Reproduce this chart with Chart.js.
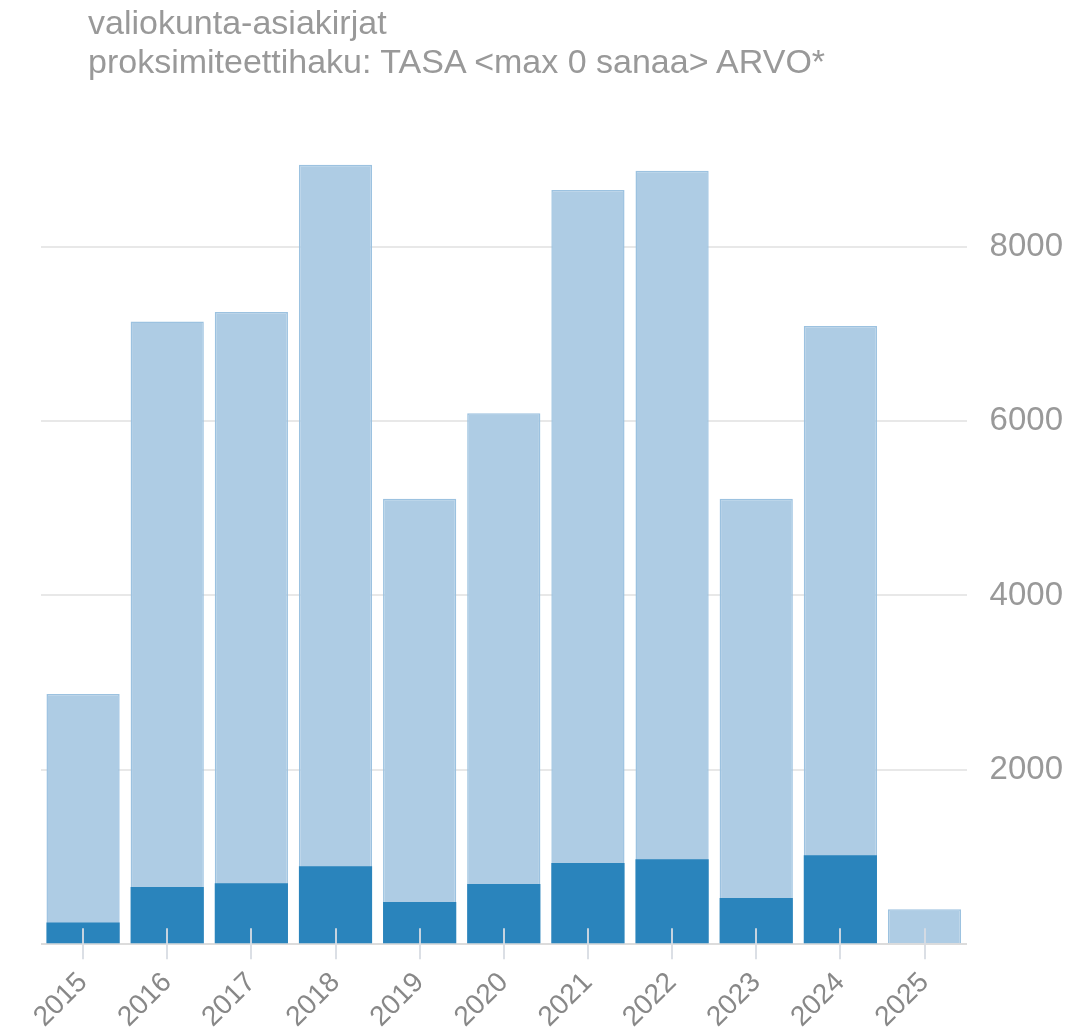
<!DOCTYPE html>
<html>
<head>
<meta charset="utf-8">
<script src="https://cdn.jsdelivr.net/npm/chart.js@4.4.1/dist/chart.umd.min.js"></script>
<style>
  html, body { margin: 0; padding: 0; background: #fff; overflow: hidden; }
  #wrap { position: relative; width: 1076px; height: 1028px; overflow: hidden; }
  #title { position: absolute; left: 88px; top: 3px; font-family: "Liberation Sans", Arial, sans-serif; font-size: 34px; line-height: 39px; color: #999; white-space: nowrap; }
  canvas { position: absolute; left: 0; top: 0; }
</style>
</head>
<body>
<div id="wrap">
  <canvas id="c" width="1076" height="1056"></canvas>
  <div id="title">valiokunta-asiakirjat<br>proksimiteettihaku: TASA &lt;max 0 sanaa&gt; ARVO*</div>
</div>
<script>
const years = ["2015","2016","2017","2018","2019","2020","2021","2022","2023","2024","2025"];
const totalDocs = [2870, 7140, 7250, 8940, 5110, 6090, 8650, 8870, 5110, 7090, 400];
const matchDocs = [250, 655, 700, 895, 485, 690, 930, 975, 530, 1020, 0];
const yTicks = [2000, 4000, 6000, 8000];

const tickMarks = {
  id: 'tickMarks',
  afterDatasetsDraw(chart) {
    const x = chart.scales.x;
    const bottom = chart.chartArea.bottom;
    const ctx = chart.ctx;
    ctx.save();
    ctx.strokeStyle = 'rgba(215,220,226,0.9)';
    ctx.lineWidth = 2;
    for (let i = 0; i < years.length; i++) {
      const px = Math.round(x.getPixelForTick(i));
      ctx.beginPath();
      ctx.moveTo(px, bottom - 16);
      ctx.lineTo(px, bottom + 15);
      ctx.stroke();
    }
    ctx.restore();
  }
};

new Chart(document.getElementById('c'), {
  type: 'bar',
  data: {
    labels: years,
    datasets: [
      {
        data: matchDocs,
        backgroundColor: '#2a84bc',
        borderWidth: 0,
        grouped: false,
        barPercentage: 0.87,
        categoryPercentage: 1.0,
        order: 0
      },
      {
        data: totalDocs,
        backgroundColor: '#aecce4',
        borderColor: '#9cc2e0',
        borderWidth: 1.5,
        grouped: false,
        barPercentage: 0.87,
        categoryPercentage: 1.0,
        order: 1
      }
    ]
  },
  options: {
    responsive: false,
    animation: false,
    layout: { padding: { left: 41, top: 142, right: -10, bottom: 0 } },
    plugins: { legend: { display: false }, tooltip: { enabled: false }, title: { display: false } },
    scales: {
      x: {
        grid: { display: false, drawTicks: false },
        border: { display: false },
        ticks: {
          color: '#888',
          font: { family: '"Liberation Sans", Arial, sans-serif', size: 28 },
          maxRotation: 45, minRotation: 45,
          padding: 22
        }
      },
      y: {
        position: 'right',
        min: 0, max: 9200,
        afterBuildTicks(axis) { axis.ticks = [0].concat(yTicks).map(v => ({ value: v })); },
        grid: {
          drawTicks: false,
          color: ctx => ctx.tick && ctx.tick.value === 0 ? '#dcdcdc' : '#e8e8e8',
          lineWidth: 2
        },
        border: { display: false },
        ticks: {
          color: '#999',
          font: { family: '"Liberation Sans", Arial, sans-serif', size: 33 },
          padding: 23,
          callback: v => v === 0 ? '' : String(v)
        }
      }
    }
  },
  plugins: [tickMarks]
});
</script>
</body>
</html>
